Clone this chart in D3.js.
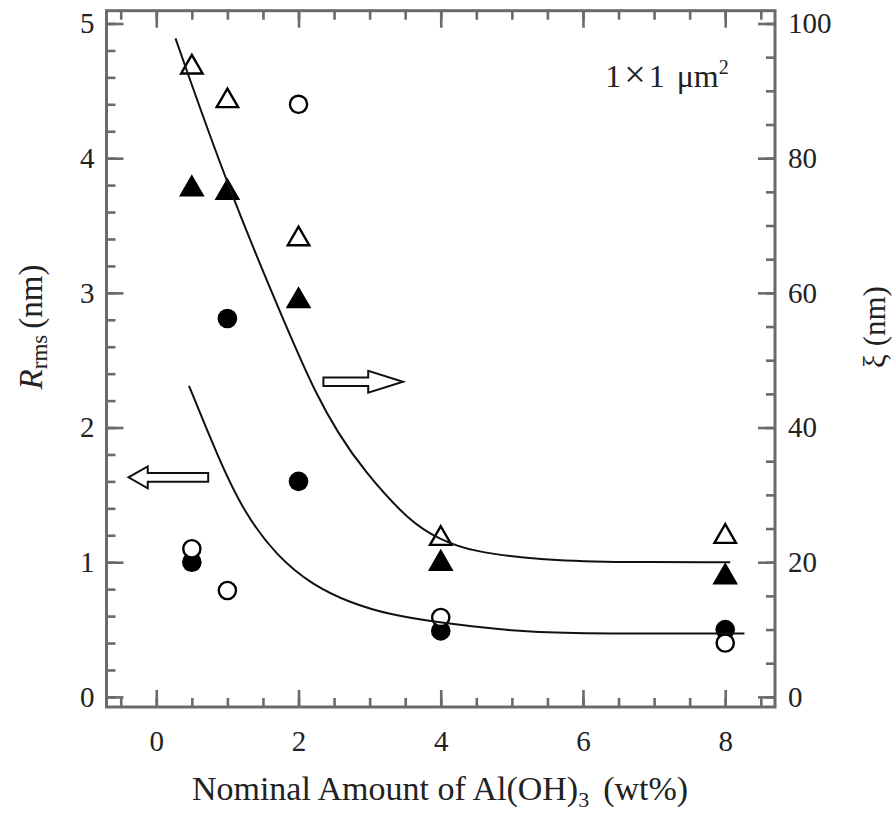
<!DOCTYPE html>
<html>
<head>
<meta charset="utf-8">
<script src="https://cdn.jsdelivr.net/npm/d3@7"></script>
<style>
  body { margin: 0; background: #fff; }
  text { font-family: "Liberation Serif", "Times New Roman", serif; fill: #222; }
</style>
</head>
<body>
<script>
// wt% of Al(OH)3
var amounts = [0.5, 1, 2, 4, 8];
// correlation length xi (nm), right axis
var xiOpen   = [93.5, 88.5, 68, 23.5, 23.8];
var xiFilled = [75.4, 74.9, 58.8, 19.8, 17.8];
// roughness Rrms (nm), left axis
var rmsFilled = [1.0, 2.81, 1.6, 0.49, 0.50];
var rmsOpen   = [1.1, 0.79, 4.40, 0.59, 0.40];

// guide-to-eye curves
var xiFitX = [0.27, 1.0, 1.88, 2.26, 2.55, 2.9, 3.57, 3.99, 4.42, 5.43, 6.33, 8.07];
var xiFitY = [97.8, 75.8, 53.6, 44.7, 39.3, 33.8, 25.9, 23.4, 21.6, 20.3, 20.0, 20.0];
var rmsFitX = [0.46, 0.86, 1.22, 1.70, 2.2, 2.72, 3.28, 3.99, 4.83, 5.55, 8.27];
var rmsFitY = [2.31, 1.79, 1.38, 1.04, 0.83, 0.70, 0.61, 0.55, 0.50, 0.47, 0.47];

var xTicks = [0, 2, 4, 6, 8],
    leftTicks = [0, 1, 2, 3, 4, 5],
    rightTicks = [0, 20, 40, 60, 80, 100];

var width = 893, height = 818,
    plotL = 106.5, plotR = 775, plotT = 10.7, plotB = 707,
    frameColor = "#6a6a6a";

var svg = d3.select("body").append("svg")
    .attr("width", width)
    .attr("height", height);

var x = d3.scaleLinear().domain([-0.7, 8.7]).range([plotL, plotR]);
var yL = d3.scaleLinear().domain([-0.075, 5.095]).range([plotB, plotT]);
var yR = d3.scaleLinear().domain([-1.5, 101.9]).range([plotB, plotT]);

function styleAxis(g) {
  g.attr("font-size", null).attr("font-family", null);
  g.select(".domain").remove();
  g.selectAll(".tick line").attr("stroke", frameColor).attr("stroke-width", 2.6);
  g.selectAll(".tick text").style("font-size", "29px").attr("fill", "#222");
}

var xMinor = d3.range(-0.5, 8.6, 0.5);
var lMinor = d3.range(0, 5.01, 0.2);
var rMinor = d3.range(0, 100.1, 5);

// minor ticks
svg.append("g").attr("transform", "translate(0," + plotB + ")")
  .call(d3.axisBottom(x).tickValues(xMinor).tickSize(-9).tickFormat("")).call(styleAxis);
svg.append("g").attr("transform", "translate(0," + plotT + ")")
  .call(d3.axisTop(x).tickValues(xMinor).tickSize(-9).tickFormat("")).call(styleAxis);
svg.append("g").attr("transform", "translate(" + plotL + ",0)")
  .call(d3.axisLeft(yL).tickValues(lMinor).tickSize(-9).tickFormat("")).call(styleAxis);
svg.append("g").attr("transform", "translate(" + plotR + ",0)")
  .call(d3.axisRight(yR).tickValues(rMinor).tickSize(-9).tickFormat("")).call(styleAxis);

// major ticks + labels
svg.append("g").attr("transform", "translate(0," + plotB + ")")
  .call(d3.axisBottom(x).tickValues(xTicks).tickSize(-17).tickPadding(23).tickFormat(d3.format("d")))
  .call(styleAxis);
svg.append("g").attr("transform", "translate(0," + plotT + ")")
  .call(d3.axisTop(x).tickValues(xTicks).tickSize(-17).tickFormat("")).call(styleAxis);
svg.append("g").attr("transform", "translate(" + plotL + ",0)")
  .call(d3.axisLeft(yL).tickValues(leftTicks).tickSize(-17).tickPadding(12).tickFormat(d3.format("d")))
  .call(styleAxis);
svg.append("g").attr("transform", "translate(" + plotR + ",0)")
  .call(d3.axisRight(yR).tickValues(rightTicks).tickSize(-17).tickPadding(13).tickFormat(d3.format("d")))
  .call(styleAxis);

// frame
svg.append("rect")
  .attr("x", plotL).attr("y", plotT)
  .attr("width", plotR - plotL).attr("height", plotB - plotT)
  .attr("fill", "none").attr("stroke", frameColor).attr("stroke-width", 3);

// markers
var tri = d3.symbol().type(d3.symbolTriangle).size(200);

function circles(vals, fill) {
  svg.append("g").selectAll("circle")
    .data(amounts.map(function(a, i) { return [a, vals[i]]; }))
    .enter().append("circle")
    .attr("cx", function(d) { return x(d[0]); })
    .attr("cy", function(d) { return yL(d[1]); })
    .attr("r", fill ? 9.8 : 8.6)
    .attr("fill", fill ? "#000" : "#fff")
    .attr("stroke", "#000")
    .attr("stroke-width", fill ? 0 : 2.4);
}
function triangles(vals, fill) {
  svg.append("g").selectAll("path")
    .data(amounts.map(function(a, i) { return [a, vals[i]]; }))
    .enter().append("path")
    .attr("d", tri)
    .attr("transform", function(d) { return "translate(" + x(d[0]) + "," + yR(d[1]) + ")"; })
    .attr("fill", fill ? "#000" : "#fff")
    .attr("stroke", "#000")
    .attr("stroke-width", 2.4)
    .attr("stroke-linejoin", "miter");
}
circles(rmsFilled, true);
circles(rmsOpen, false);
triangles(xiFilled, true);
triangles(xiOpen, false);

// curves
var xiLine = d3.line().curve(d3.curveBasis)
  .x(function(d) { return x(d[0]); }).y(function(d) { return yR(d[1]); });
var rmsLine = d3.line().curve(d3.curveBasis)
  .x(function(d) { return x(d[0]); }).y(function(d) { return yL(d[1]); });

svg.append("path")
  .datum(xiFitX.map(function(v, i) { return [v, xiFitY[i]]; }))
  .attr("d", xiLine).attr("fill", "none").attr("stroke", "#111").attr("stroke-width", 2);
svg.append("path")
  .datum(rmsFitX.map(function(v, i) { return [v, rmsFitY[i]]; }))
  .attr("d", rmsLine).attr("fill", "none").attr("stroke", "#111").attr("stroke-width", 2);

// hollow block arrows (tail, head base, tip in data units)
function arrow(x0, x1, x2, yv, yScale) {
  var xt = x(x0), xb = x(x1), xp = x(x2), yc = yScale(yv);
  var s = 4.3, h = 11;
  var pts = [[xt, yc - s], [xb, yc - s], [xb, yc - h], [xp, yc], [xb, yc + h], [xb, yc + s], [xt, yc + s]];
  svg.append("path")
    .attr("d", d3.line()(pts) + "Z")
    .attr("fill", "#fff").attr("stroke", "#111").attr("stroke-width", 2);
}
arrow(2.35, 2.98, 3.47, 46.8, yR);
arrow(0.73, -0.12, -0.39, 1.63, yL);

// labels
svg.append("text")
  .attr("x", 667).attr("y", 87)
  .attr("text-anchor", "middle")
  .style("font-size", "32px")
  .html('1<tspan dx="3" font-size="38">×</tspan><tspan dx="3">1</tspan><tspan dx="12">μm</tspan><tspan dy="-13" font-size="20">2</tspan>');

svg.append("text")
  .attr("x", 440).attr("y", 800)
  .attr("text-anchor", "middle")
  .style("font-size", "34px")
  .html('Nominal Amount of Al(OH)<tspan dy="7" font-size="22">3</tspan><tspan dy="-7" dx="14">(wt%)</tspan>');

svg.append("text")
  .attr("transform", "translate(42,327) rotate(-90)")
  .attr("text-anchor", "middle")
  .style("font-size", "33px")
  .html('<tspan font-style="italic">R</tspan><tspan dy="5" font-size="23">rms</tspan><tspan dy="-5" dx="6">(nm)</tspan>');

svg.append("text")
  .attr("transform", "translate(885,327) rotate(-90)")
  .attr("text-anchor", "middle")
  .style("font-size", "31px")
  .text("ξ (nm)");
</script>
</body>
</html>
